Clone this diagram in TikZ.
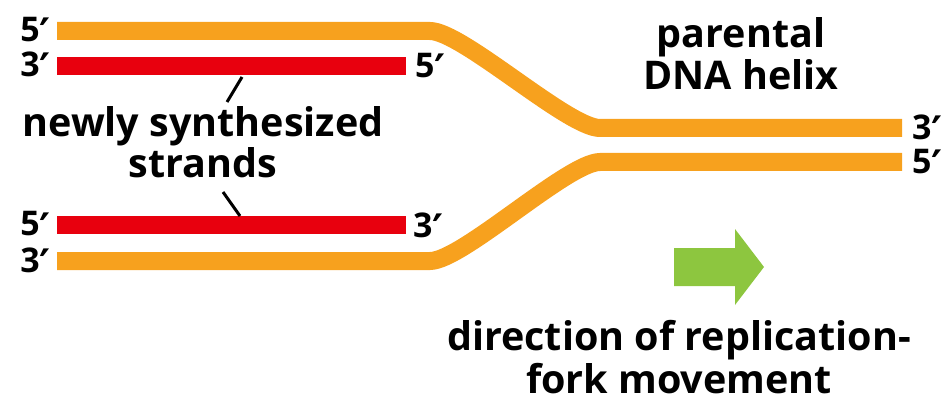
\documentclass[tikz,border=0pt]{standalone}
\usepackage{fontspec}
\setmainfont{Open Sans}
\newfontfamily\primefont{DejaVu Sans}
\newcommand{\pr}{\raisebox{-7pt}[22pt][0pt]{\primefont\bfseries\fontsize{42}{42}\selectfont ′}}
\definecolor{strandorange}{HTML}{F7A11E}
\definecolor{strandred}{HTML}{E8000E}
\definecolor{arrowgreen}{HTML}{8DC63F}
\begin{document}
\begin{tikzpicture}[x=1pt,y=-1pt,
  parent/.style={draw=strandorange,line width=18pt,line cap=butt},
  daughter/.style={draw=strandred,line width=18pt,line cap=butt},
  endlabel/.style={font=\fontsize{34}{36}\selectfont\bfseries,inner sep=0pt},
  caption/.style={font=\fontsize{39.5}{42}\selectfont\bfseries,inner sep=0pt,anchor=base},
  leader/.style={draw=black,line width=3pt}]
\useasboundingbox (0,0) rectangle (951,401);
% parental strands
\draw[parent] (57,31) -- (430,31) .. controls (462,31) and (568,128) .. (600,128) -- (902,128);
\draw[parent] (57,261) -- (430,261) .. controls (462,261) and (568,162) .. (600,162) -- (902,162);
% newly synthesized strands
\draw[daughter] (57,66) -- (406,66);
\draw[daughter] (57,225) -- (406,225);
% end labels
\node[endlabel,anchor=base east] (l1) at (51,42) {5\pr};
\node[endlabel,anchor=base east] (l2) at (51,77) {3\pr};
\node[endlabel,anchor=base west] (l3) at (415,78) {5\pr};
\node[endlabel,anchor=base east] (l4) at (51,236) {5\pr};
\node[endlabel,anchor=base east] (l5) at (51,272) {3\pr};
\node[endlabel,anchor=base west] (l6) at (413,237) {3\pr};
\node[endlabel,anchor=base west] (l7) at (912,140) {3\pr};
\node[endlabel,anchor=base west] (l8) at (912,174) {5\pr};
% captions
\node[caption] (par1) at (741,48) {parental};
\node[caption] (par2) at (741,90) {DNA helix};
\node[caption] (new1) at (203,137) {newly synthesized};
\node[caption] (new2) at (203,178) {strands};
\node[caption] (dir1) at (679,350) {direction of replication-};
\node[caption] (dir2) at (679,393) {fork movement};
% leaders
\coordinate (t1) at (242,77);
\coordinate (t2) at (227,102);
\coordinate (b1) at (223,192);
\coordinate (b2) at (240,216);
\draw[leader] (t1) -- (t2);
\draw[leader] (b1) -- (b2);
% arrow
\fill[arrowgreen] (674,248) -- (735,248) -- (735,229) -- (764,267) -- (735,305) -- (735,286) -- (674,286) -- cycle;
\end{tikzpicture}
\end{document}
